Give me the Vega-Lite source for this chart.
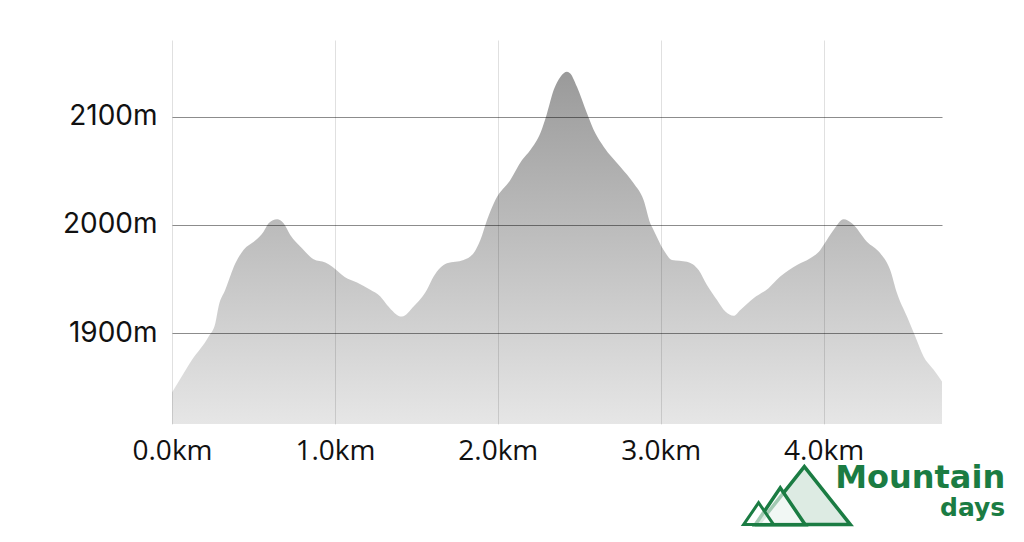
{
  "$schema": "https://vega.github.io/schema/vega-lite/v6.json",
  "width": 770,
  "height": 384,
  "autosize": {"type": "none"},
  "padding": {"left": 172, "top": 40, "right": 82, "bottom": 118},
  "background": "white",
  "config": {"view": {"stroke": null}},
  "layer": [
    {
      "data": {"values": [
        {"km": 0.000, "m": 1845.2}, {"km": 0.041, "m": 1855.3}, {"km": 0.123, "m": 1875.3}, {"km": 0.225, "m": 1896.9},
        {"km": 0.266, "m": 1909.2}, {"km": 0.286, "m": 1924.6}, {"km": 0.327, "m": 1940.0}, {"km": 0.389, "m": 1964.6},
        {"km": 0.440, "m": 1977.0}, {"km": 0.511, "m": 1985.6}, {"km": 0.562, "m": 1993.8}, {"km": 0.593, "m": 2001.6},
        {"km": 0.645, "m": 2005.3}, {"km": 0.685, "m": 2001.6}, {"km": 0.726, "m": 1990.8}, {"km": 0.798, "m": 1978.5},
        {"km": 0.869, "m": 1968.3}, {"km": 0.941, "m": 1965.2}, {"km": 0.982, "m": 1961.5}, {"km": 1.060, "m": 1952.0},
        {"km": 1.136, "m": 1946.7}, {"km": 1.217, "m": 1940.0}, {"km": 1.279, "m": 1933.8}, {"km": 1.320, "m": 1926.1},
        {"km": 1.412, "m": 1915.3}, {"km": 1.483, "m": 1924.6}, {"km": 1.565, "m": 1940.0}, {"km": 1.606, "m": 1952.3},
        {"km": 1.688, "m": 1964.6}, {"km": 1.790, "m": 1967.7}, {"km": 1.851, "m": 1973.9}, {"km": 1.893, "m": 1986.1},
        {"km": 1.934, "m": 2004.6}, {"km": 1.985, "m": 2023.1}, {"km": 2.077, "m": 2041.6}, {"km": 2.149, "m": 2060.0},
        {"km": 2.200, "m": 2069.3}, {"km": 2.261, "m": 2084.7}, {"km": 2.302, "m": 2103.1}, {"km": 2.343, "m": 2124.7},
        {"km": 2.384, "m": 2136.9}, {"km": 2.425, "m": 2141.6}, {"km": 2.445, "m": 2140.1}, {"km": 2.486, "m": 2127.7},
        {"km": 2.548, "m": 2103.1}, {"km": 2.599, "m": 2084.7}, {"km": 2.650, "m": 2072.3}, {"km": 2.752, "m": 2053.8},
        {"km": 2.834, "m": 2038.5}, {"km": 2.895, "m": 2023.1}, {"km": 2.936, "m": 2001.6}, {"km": 2.956, "m": 1995.4},
        {"km": 3.018, "m": 1976.9}, {"km": 3.069, "m": 1967.7}, {"km": 3.161, "m": 1966.1}, {"km": 3.233, "m": 1958.4},
        {"km": 3.284, "m": 1944.6}, {"km": 3.346, "m": 1930.7}, {"km": 3.397, "m": 1919.9}, {"km": 3.448, "m": 1916.0},
        {"km": 3.489, "m": 1921.5}, {"km": 3.570, "m": 1932.3}, {"km": 3.662, "m": 1941.6}, {"km": 3.734, "m": 1952.3},
        {"km": 3.837, "m": 1963.1}, {"km": 3.918, "m": 1969.3}, {"km": 3.980, "m": 1976.9}, {"km": 4.000, "m": 1981.5},
        {"km": 4.061, "m": 1995.4}, {"km": 4.123, "m": 2005.3}, {"km": 4.174, "m": 2001.6}, {"km": 4.266, "m": 1984.6},
        {"km": 4.348, "m": 1973.9}, {"km": 4.409, "m": 1958.4}, {"km": 4.451, "m": 1936.9}, {"km": 4.512, "m": 1915.3},
        {"km": 4.563, "m": 1896.9}, {"km": 4.614, "m": 1878.4}, {"km": 4.676, "m": 1866.1}, {"km": 4.727, "m": 1855.3}
      ]},
      "mark": {
        "type": "area",
        "interpolate": "monotone",
        "color": {
          "gradient": "linear",
          "x1": 0, "y1": 0, "x2": 0, "y2": 1,
          "stops": [
            {"offset": 0, "color": "#9a9a9a"},
            {"offset": 1, "color": "#e6e6e6"}
          ]
        }
      },
      "encoding": {
        "x": {
          "field": "km", "type": "quantitative",
          "scale": {"domain": [0, 4.727], "nice": false, "zero": false},
          "axis": {
            "values": [0, 1, 2, 3, 4],
            "labelExpr": "format(datum.value, '.1f') + 'km'",
            "title": null, "domain": false, "ticks": false,
            "grid": true, "gridColor": "#000000", "gridOpacity": 0.12,
            "labelFont": "Open Sans", "labelFontSize": 28, "labelColor": "#111111",
            "labelPadding": 13, "labelFlush": false, "zindex": 1
          }
        },
        "y": {
          "field": "m", "type": "quantitative",
          "scale": {"domain": [1816, 2171], "nice": false, "zero": false},
          "axis": {
            "values": [1900, 2000, 2100],
            "labelExpr": "datum.value + 'm'",
            "title": null, "domain": false, "ticks": false,
            "grid": true, "gridColor": "#000000", "gridOpacity": 0.45, "gridWidth": 1.2,
            "labelFont": "Inter", "labelFontSize": 28, "labelColor": "#111111",
            "labelPadding": 15, "zindex": 1
          }
        },
        "y2": {"datum": 1816}
      }
    },
    {
      "data": {"values": [{"km": 3.882, "m": 1749.8}]},
      "mark": {"type": "point", "shape": "M-1,0.63L0,-0.63L1,0.63Z", "size": 8464, "filled": true, "fill": "#1b7c43", "fillOpacity": 0.15, "stroke": "#1b7c43", "strokeWidth": 3.5, "opacity": 1},
      "encoding": {"x": {"field": "km", "type": "quantitative"}, "y": {"field": "m", "type": "quantitative"}}
    },
    {
      "data": {"values": [{"km": 3.734, "m": 1739.9}]},
      "mark": {"type": "point", "shape": "M-1,0.74L0,-0.74L1,0.74Z", "size": 2500, "filled": true, "fill": "#ffffff", "fillOpacity": 0.6, "stroke": "#1b7c43", "strokeWidth": 3.5, "opacity": 1},
      "encoding": {"x": {"field": "km", "type": "quantitative"}, "y": {"field": "m", "type": "quantitative"}}
    },
    {
      "data": {"values": [{"km": 3.601, "m": 1733.1}]},
      "mark": {"type": "point", "shape": "M-1,0.73L0,-0.73L1,0.73Z", "size": 900, "filled": true, "fill": "#ffffff", "fillOpacity": 0.6, "stroke": "#1b7c43", "strokeWidth": 3, "opacity": 1},
      "encoding": {"x": {"field": "km", "type": "quantitative"}, "y": {"field": "m", "type": "quantitative"}}
    },
    {
      "data": {"values": [
        {"km": 5.115, "m": 1756.9, "label": "Mountain"}
      ]},
      "mark": {"type": "text", "align": "right", "baseline": "alphabetic", "font": "DejaVu Sans", "fontWeight": "bold", "fontSize": 32, "color": "#1b7c43"},
      "encoding": {"x": {"field": "km", "type": "quantitative"}, "y": {"field": "m", "type": "quantitative"}, "text": {"field": "label"}}
    },
    {
      "data": {"values": [
        {"km": 5.115, "m": 1730.7, "label": "days"}
      ]},
      "mark": {"type": "text", "align": "right", "baseline": "alphabetic", "font": "DejaVu Sans", "fontWeight": "bold", "fontSize": 25, "color": "#1b7c43"},
      "encoding": {"x": {"field": "km", "type": "quantitative"}, "y": {"field": "m", "type": "quantitative"}, "text": {"field": "label"}}
    }
  ]
}
